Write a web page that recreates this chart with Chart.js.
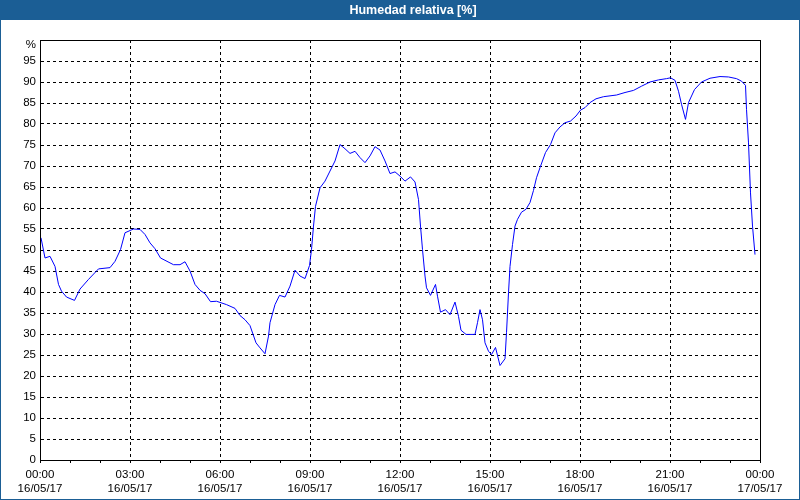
<!DOCTYPE html>
<html><head><meta charset="utf-8">
<script src="https://cdn.jsdelivr.net/npm/chart.js@4"></script>
<style>html,body{margin:0;padding:0;background:#fff}#wrap{width:800px;height:500px;position:relative}</style>
</head><body><div id="wrap"><canvas id="c" width="800" height="500"></canvas></div>
<script>
const chartTitle = 'Humedad relativa [%]';
const dateLabels = ['16/05/17','16/05/17','16/05/17','16/05/17','16/05/17','16/05/17','16/05/17','16/05/17','17/05/17'];
const hourLabels = ['00:00','03:00','06:00','09:00','12:00','15:00','18:00','21:00','00:00'];
// minutes since 16/05/17 00:00
const times = [2,10,20,30,37,43,53,69,80,97,117,140,150,161,170,187,200,210,220,230,241,267,280,290,300,310,320,330,341,353,373,390,400,410,420,432,440,450,457,460,470,479,490,500,510,520,530,539,543,547,551,560,570,580,590,600,610,620,630,640,650,660,670,680,690,700,710,720,730,741,750,757,761,765,770,773,781,791,795,801,811,820,830,837,842,852,870,875,880,885,890,897,903,911,920,930,933,937,940,945,950,955,963,972,980,987,993,1000,1011,1021,1030,1040,1050,1061,1072,1081,1090,1100,1112,1127,1153,1170,1187,1203,1220,1237,1253,1261,1270,1277,1283,1291,1297,1309,1323,1340,1360,1377,1393,1403,1411,1413,1417,1421,1425,1430];
const humidity = [52.9,48.1,48.5,46.1,41.8,40.2,38.8,38.0,40.7,43.0,45.5,45.8,47.3,50.1,54.1,55.0,54.9,53.7,51.7,50.3,48.1,46.5,46.5,47.2,45.0,41.8,40.4,39.6,37.7,37.8,37.0,36.1,34.4,33.4,32.0,27.9,26.7,25.3,29.5,32.7,37.0,39.2,38.8,41.4,45.2,43.8,43.2,46.3,50.1,55.7,60.4,64.8,66.4,68.8,71.2,75.1,74.1,73.0,73.5,72.0,70.8,72.4,74.6,73.8,71.2,68.2,68.6,67.6,66.4,67.4,66.2,62.0,55.7,50.1,43.8,41.0,39.2,41.8,39.0,35.2,35.8,34.6,37.6,34.2,30.9,29.9,29.9,32.7,35.8,33.4,27.9,25.9,25.1,26.8,22.5,24.1,30.3,39.8,46.1,51.3,55.7,57.3,59.0,59.7,61.3,64.2,67.2,69.6,73.2,75.1,77.9,79.3,80.3,80.7,81.9,83.3,83.9,85.1,86.0,86.5,86.9,87.5,88.0,89.0,90.0,90.5,90.8,91.0,90.4,87.8,84.7,81.1,85.1,88.2,90.0,90.9,91.3,91.2,90.8,90.2,89.2,83.5,75.5,63.6,55.7,48.9];

const BLUE = '#1b5e95';
const FONT = 'Liberation Sans, Arial, sans-serif';

const frame = {
  id: 'frame',
  beforeDraw(chart) {
    const c = chart.ctx;
    c.save();
    c.fillStyle = '#ffffff';
    c.fillRect(0, 0, 800, 500);
    c.fillStyle = BLUE;
    c.fillRect(0, 0, 800, 20);
    c.fillRect(0, 0, 1, 500);
    c.fillRect(799, 0, 1, 500);
    c.fillRect(0, 499, 800, 1);
    c.fillStyle = '#ffffff';
    c.font = 'bold 12.5px "Liberation Sans", Arial, sans-serif';
    c.textAlign = 'center';
    c.textBaseline = 'middle';
    c.fillText(chartTitle, 413, 10.5);
    c.restore();
  },
  afterDraw(chart) {
    const a = chart.chartArea, c = chart.ctx;
    c.save();
    c.setLineDash([]);
    c.strokeStyle = '#000';
    c.lineWidth = 1;
    c.strokeRect(Math.round(a.left) + 0.5, Math.round(a.top) + 0.5, Math.round(a.right - a.left), Math.round(a.bottom - a.top));
    c.fillStyle = '#000';
    c.font = '11.5px ' + FONT;
    c.textAlign = 'right';
    c.textBaseline = 'middle';
    c.fillText('%', a.left - 4, chart.scales.y.getPixelForValue(100) + 5);
    c.restore();
  }
};

new Chart(document.getElementById('c'), {
  type: 'line',
  data: {
    datasets: [{
      data: times.map((t, i) => ({x: t, y: humidity[i]})),
      borderColor: '#0000ff',
      borderWidth: 1,
      pointRadius: 0,
      tension: 0,
      fill: false
    }]
  },
  options: {
    responsive: false,
    animation: false,
    events: [],
    layout: {padding: {left: 0, right: 40, top: 40, bottom: 0}},
    plugins: {legend: {display: false}, tooltip: {enabled: false}, title: {display: false}},
    scales: {
      x: {
        type: 'linear', min: 0, max: 1440,
        afterFit(s) { s.height = 40; },
        border: {display: true, color: '#000', dash: [3, 3]},
        grid: {
          color: (ctx) => (ctx.tick && ctx.tick.value % 180 === 0) ? '#000' : 'rgba(0,0,0,0)',
          tickColor: '#000',
          tickBorderDash: [],
          tickLength: 3,
          lineWidth: 1
        },
        ticks: {
          stepSize: 60, autoSkip: false, maxRotation: 0, minRotation: 0,
          padding: 5, color: '#000',
          font: {family: FONT, size: 11.5, lineHeight: 1.2},
          callback: (v) => {
            if (v % 180 !== 0) return '';
            const i = v / 180;
            return [hourLabels[i], dateLabels[i]];
          }
        }
      },
      y: {
        min: 0, max: 100,
        afterFit(s) { s.width = 40; },
        border: {display: true, color: '#000', dash: [3, 3]},
        grid: {
          color: (ctx) => (ctx.tick && (ctx.tick.value === 0 || ctx.tick.value === 100)) ? 'rgba(0,0,0,0)' : '#000',
          drawTicks: false,
          lineWidth: 1
        },
        ticks: {
          stepSize: 5, padding: 4, color: '#000', autoSkip: false,
          font: {family: FONT, size: 11.5},
          callback: (v) => v === 100 ? '' : String(v)
        }
      }
    }
  },
  plugins: [frame]
});
</script></body></html>
